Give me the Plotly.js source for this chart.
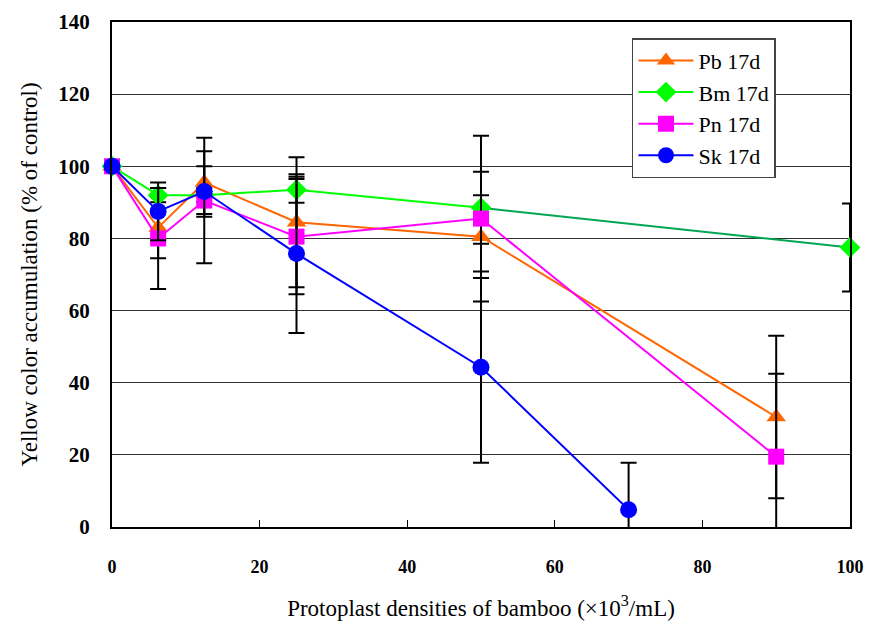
<!DOCTYPE html>
<html>
<head>
<meta charset="utf-8">
<script src="https://cdn.plot.ly/plotly-3.0.1.min.js"></script>
<style>html,body{margin:0;padding:0;background:#fff;}#chart{width:877px;height:624px;}</style>
</head>
<body>
<div id="chart"></div>
<script>
// Data
const pbX = [0, 6.25, 12.5, 25, 50, 90];
const pbY = [100, 83, 95.5, 84.5, 80.5, 30.5];
const pbErr = [0, 8.5, 8.7, 18, 11.5, 22.5];

const bmX = [0, 6.25, 12.5, 25, 50, 100];
const bmY = [100, 92, 92, 93.5, 88.5, 77.5];
const bmErr = [0, 2, 2, 3.6, 10, 12.2];

const pnX = [0, 6.25, 12.5, 25, 50, 90];
const pnY = [100, 80, 90.5, 80.5, 85.5, 19.5];
const pnErr = [0, 14, 17.4, 16, 23, 23];

const skX = [0, 6.25, 12.5, 25, 50, 70];
const skY = [100, 87.5, 93, 75.8, 44.3, 4.8];
const skErr = [0, 8, 7, 22, 26.5, 13];

const seriesNames = ["Pb 17d", "Bm 17d", "Pn 17d", "Sk 17d"];
const xTicks = [0, 20, 40, 60, 80, 100];
const yTicks = [0, 20, 40, 60, 80, 100, 120, 140];

const serif = "Liberation Serif";

function errBar(arr) {
  return {type: "data", array: arr, visible: true, color: "#000", thickness: 2, width: 8};
}

const traces = [
  {x: bmX.slice(-2), y: bmY.slice(-2), mode: "lines", line: {color: "#00a651", width: 2},
   showlegend: false, hoverinfo: "skip"},
  {x: pbX, y: pbY, name: seriesNames[0], mode: "lines+markers",
   line: {color: "#ff6600", width: 2},
   marker: {symbol: "triangle-up", size: 17, color: "#ff6600"},
   error_y: errBar(pbErr), cliponaxis: false},
  {x: bmX.slice(0, -1), y: bmY.slice(0, -1), name: seriesNames[1], mode: "lines+markers",
   line: {color: "#00ff00", width: 2},
   marker: {symbol: "diamond", size: 16, color: "#00ff00"},
   error_y: errBar(bmErr.slice(0, -1)), cliponaxis: false},
  {x: bmX.slice(-1), y: bmY.slice(-1), mode: "markers", showlegend: false,
   marker: {symbol: "diamond", size: 16, color: "#00ff00"},
   error_y: errBar(bmErr.slice(-1)), cliponaxis: false},
  {x: pnX, y: pnY, name: seriesNames[2], mode: "lines+markers",
   line: {color: "#ff00ff", width: 2},
   marker: {symbol: "square", size: 16, color: "#ff00ff"},
   error_y: errBar(pnErr), cliponaxis: false},
  {x: skX, y: skY, name: seriesNames[3], mode: "lines+markers",
   line: {color: "#0000ff", width: 2},
   marker: {symbol: "circle", size: 17, color: "#0000ff"},
   error_y: errBar(skErr), cliponaxis: false}
];

const layout = {
  width: 877, height: 624,
  margin: {l: 112, r: 27, t: 22, b: 97},
  paper_bgcolor: "#fff", plot_bgcolor: "#fff",
  font: {family: serif, color: "#000", size: 18},
  showlegend: true,
  legend: {
    x: 0.7046, y: 0.968, xanchor: "left", yanchor: "top",
    bgcolor: "#fff", bordercolor: "#444", borderwidth: 1.5,
    font: {family: serif, size: 22, color: "#000"},
    traceorder: "normal", itemwidth: 55,
    entrywidth: 125, entrywidthmode: "pixels"
  },
  xaxis: {
    range: [0, 100], tickvals: xTicks, ticktext: xTicks.map(String),
    ticks: "inside", ticklen: 7, tickwidth: 1, tickcolor: "#000",
    showline: true, linecolor: "#000", linewidth: 2, mirror: true,
    showgrid: false, zeroline: false,
    tickfont: {family: serif, size: 18, color: "#000", weight: "bold"},
    ticklabelstandoff: 22,
    title: {text: "Protoplast densities of bamboo (×10<sup>3</sup>/mL)",
            font: {family: serif, size: 23, color: "#000"}, standoff: 24}
  },
  yaxis: {
    range: [0, 140], tickvals: yTicks, ticktext: yTicks.map(String),
    ticks: "", showline: true, linecolor: "#000", linewidth: 2, mirror: true,
    showgrid: true, gridcolor: "#333", gridwidth: 1, zeroline: false,
    tickfont: {family: serif, size: 21, color: "#000", weight: "bold"},
    ticklabelstandoff: 16,
    title: {text: "Yellow color accumulation (% of control)",
            font: {family: serif, size: 23, color: "#000"}, standoff: 14}
  }
};

Plotly.newPlot("chart", traces, layout, {displayModeBar: false, staticPlot: true});
</script>
</body>
</html>
